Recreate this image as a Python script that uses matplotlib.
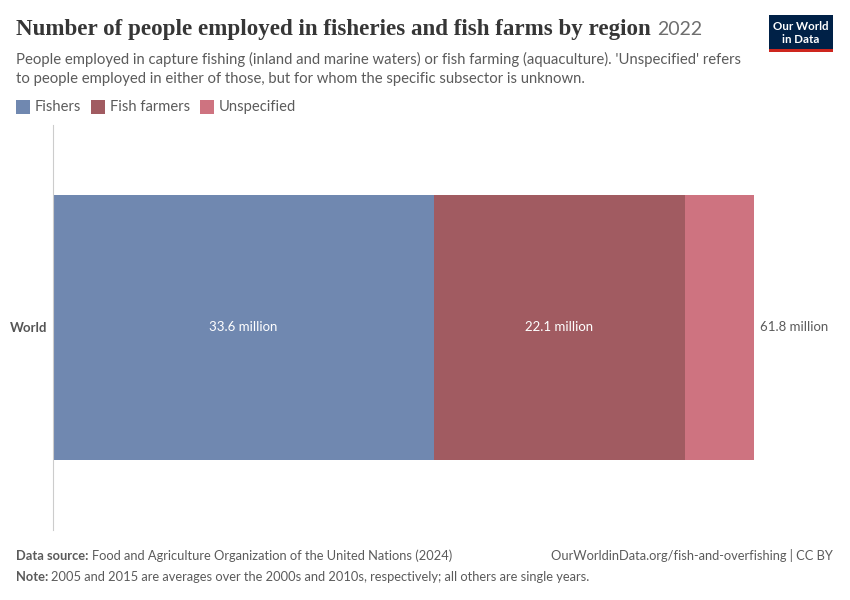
import matplotlib
matplotlib.use("Agg")
import matplotlib.pyplot as plt
from matplotlib.patches import Rectangle

regions = ["World"]
series_names = ["Fishers", "Fish farmers", "Unspecified"]
fishers = [33.6]
fish_farmers = [22.1]
unspecified = [6.1]
totals = [61.8]
colors = ["#7088b0", "#a15b61", "#ce7380"]

W, H = 850, 600
fig = plt.figure(figsize=(W / 100, H / 100), dpi=100)
plt.rcParams['font.family'] = ['Lato', 'DejaVu Sans']

def fx(px):
    return px / W

def fy(py):
    return 1 - py / H

renderer = fig.canvas.get_renderer()

# Title
title = fig.text(fx(16), fy(35), "Number of people employed in fisheries and fish farms by region",
                 fontsize=16.6, family=['Liberation Serif', 'DejaVu Serif'], color="#363636", weight='bold')
bb = title.get_window_extent(renderer=renderer)
fig.text(fx(bb.x1 + 6), fy(35), "2022", fontsize=14, color="#6e6e6e")
fig.text(fx(16), fy(64), "People employed in capture fishing (inland and marine waters) or fish farming (aquaculture). 'Unspecified' refers",
         fontsize=10.75, color="#5b5b5b")
fig.text(fx(16), fy(83), "to people employed in either of those, but for whom the specific subsector is unknown.",
         fontsize=10.75, color="#5b5b5b")

# Logo
fig.patches.append(Rectangle((fx(769), fy(52)), fx(64), 37 / H, transform=fig.transFigure,
                             facecolor="#002147", edgecolor="none"))
fig.patches.append(Rectangle((fx(769), fy(52)), fx(64), 3 / H, transform=fig.transFigure,
                             facecolor="#ce261e", edgecolor="none"))
fig.text(fx(801), fy(27), "Our World", fontsize=8.3, color="white", ha="center", va="center", weight="bold")
fig.text(fx(801), fy(39.5), "in Data", fontsize=8.3, color="white", ha="center", va="center", weight="bold")

# Legend
legend_x = [16, 91, 200]
for x0, lab, c in zip(legend_x, series_names, colors):
    fig.patches.append(Rectangle((fx(x0), fy(114)), 14 / W, 14 / H, transform=fig.transFigure,
                                 facecolor=c, edgecolor="none"))
    fig.text(fx(x0 + 19), fy(107), lab, fontsize=10.6, color="#5b5b5b", va="center")

# Axes
ax = fig.add_axes([fx(53), fy(530), fx(754) - fx(53), (530 - 125) / H])
ax.set_xlim(0, totals[0])
ax.set_ylim(-0.5, 0.5)
bh = 264 / 405
ypos = [0]
left = [0]
stack = [fishers, fish_farmers, unspecified]
for vals, c in zip(stack, colors):
    ax.barh(ypos, vals, left=left, height=bh, color=c, edgecolor="none")
    left = [l + v for l, v in zip(left, vals)]

for y, f, ff, t in zip(ypos, fishers, fish_farmers, totals):
    ax.text(f / 2, y, f"{f} million", ha="center", va="center", color="white", fontsize=9.5)
    ax.text(f + ff / 2, y, f"{ff} million", ha="center", va="center", color="white", fontsize=9.5)
    ax.text(t + 0.5, y, f"{t} million", ha="left", va="center", color="#5b5b5b", fontsize=9.5)

for s in ["top", "right", "bottom"]:
    ax.spines[s].set_visible(False)
ax.spines["left"].set_color("#cccccc")
ax.set_xticks([])
ax.set_yticks(ypos)
ax.set_yticklabels(regions, fontsize=9.5, color="#555555", fontweight="bold")
ax.tick_params(axis="y", length=0, pad=4)

# Footer
def label_pair(x, y, bold, rest, size=9.3):
    t = fig.text(fx(x), fy(y), bold, fontsize=size, color="#5b5b5b", weight="bold")
    b = t.get_window_extent(renderer=renderer)
    fig.text(fx(b.x1 + 3), fy(y), rest, fontsize=size, color="#5b5b5b")

label_pair(16, 560, "Data source:", "Food and Agriculture Organization of the United Nations (2024)")
fig.text(fx(833), fy(560), "OurWorldinData.org/fish-and-overfishing | CC BY", fontsize=9.3, color="#5b5b5b", ha="right")
label_pair(16, 581, "Note:", "2005 and 2015 are averages over the 2000s and 2010s, respectively; all others are single years.")

fig.savefig("out.png", dpi=100, facecolor="white")
